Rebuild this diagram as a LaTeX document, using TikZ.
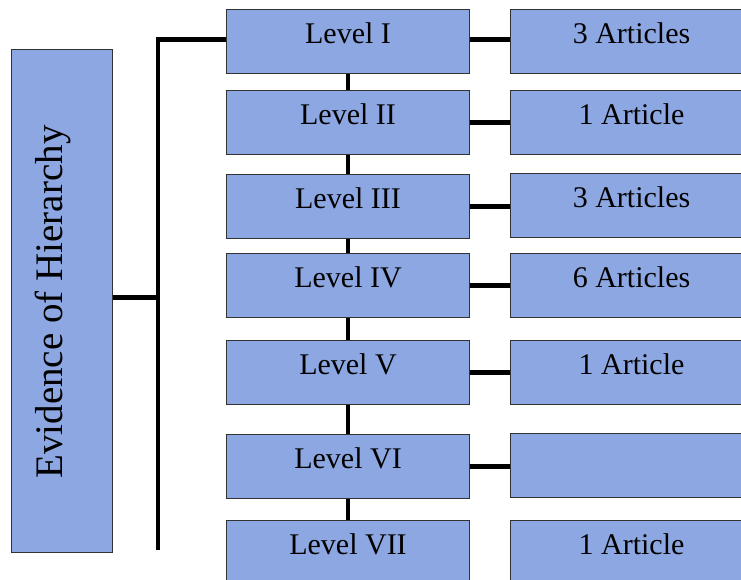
\documentclass[tikz,border=0pt]{standalone}
\usepackage{fontspec}
\setmainfont{Liberation Serif}
\definecolor{boxblue}{RGB}{140,167,225}
\definecolor{edgegray}{RGB}{50,50,50}
\begin{document}
\begin{tikzpicture}[x=1pt,y=-1pt,
  box/.style={draw=edgegray, line width=1pt, fill=boxblue, inner sep=0pt,
    anchor=north west, font=\fontsize{30}{36}\selectfont,
    text height=0.68em, text depth=0.38em},
  lvl/.style={box, minimum width=243pt, minimum height=64pt},
  art/.style={box, minimum width=242pt, minimum height=64pt},
  link/.style={line width=4.6pt, draw=black}]
\useasboundingbox (0,0) rectangle (741,579);
\clip (0,0) rectangle (741,579);

% left box
\node[box, minimum width=101pt, minimum height=503pt] (E) at (11,49) {};
\node[rotate=90, anchor=base, font=\fontsize{39}{44}\selectfont] (Et) at (62,302) {Evidence of Hierarchy};

% level boxes
\node[lvl] (L1) at (226,9)   {Level I};
\node[lvl] (L2) at (226,90)  {Level II};
\node[lvl] (L3) at (226,174) {Level III};
\node[lvl] (L4) at (226,253) {Level IV};
\node[lvl] (L5) at (226,340) {Level V};
\node[lvl] (L6) at (226,434) {Level VI};
\node[lvl] (L7) at (226,520) {Level VII};

% article boxes
\node[art] (A1) at (510,9)   {3 Articles};
\node[art] (A2) at (510,90)  {1 Article};
\node[art] (A3) at (510,173) {3 Articles};
\node[art] (A4) at (510,253) {6 Articles};
\node[art] (A5) at (510,340) {1 Article};
\node[art] (A6) at (510,433) {};
\node[art] (A7) at (510,520) {1 Article};

% bracket
\coordinate (bot) at (158,550);
\draw[link] ([yshift=2.3pt]L1.west) -| (bot);
\draw[link] ([yshift=3.5pt]E.east) -- ([yshift=3.5pt]E.east -| bot);

% vertical links between levels
\draw[link] (L1.south) -- (L2.north);
\draw[link] (L2.south) -- (L3.north);
\draw[link] (L3.south) -- (L4.north);
\draw[link] (L4.south) -- (L5.north);
\draw[link] (L5.south) -- (L6.north);
\draw[link] (L6.south) -- (L7.north);

% horizontal links to articles
\draw[link] ([yshift=2.3pt]L1.east) -- ([yshift=2.3pt]L1.east -| A1.west);
\draw[link] (L2.east) -- (L2.east -| A2.west);
\draw[link] (L3.east) -- (L3.east -| A3.west);
\draw[link] (L4.east) -- (L4.east -| A4.west);
\draw[link] (L5.east) -- (L5.east -| A5.west);
\draw[link] (L6.east) -- (L6.east -| A6.west);
\end{tikzpicture}
\end{document}
